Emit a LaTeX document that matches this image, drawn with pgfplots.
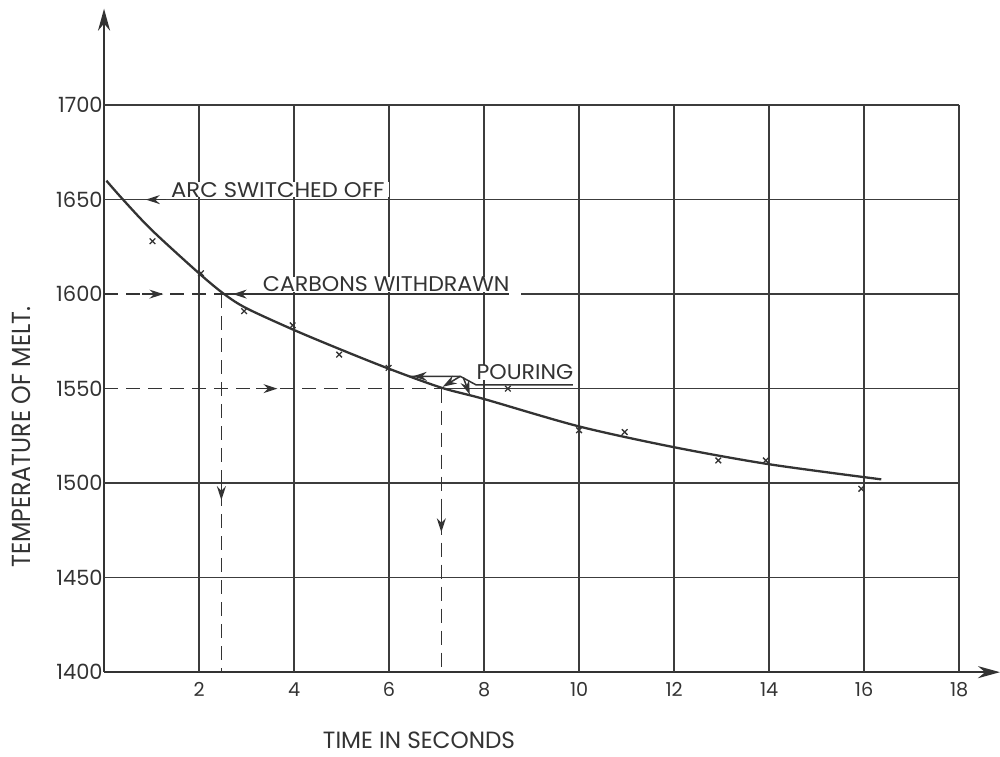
\documentclass[border=0pt]{standalone}
\usepackage{fontspec}
\setmainfont{Poppins}
\usepackage{graphicx}
\usepackage{pgfplots}
\pgfplotsset{compat=1.18}
\usetikzlibrary{arrows.meta}
\definecolor{inkc}{HTML}{333333}
\definecolor{gridc}{HTML}{3C3C3C}
\newcommand{\lab}[3]{\resizebox{#1}{#2}{#3}}
\begin{document}
\begin{tikzpicture}
\begin{axis}[
  x=23.75pt, y=0.945pt,
  xmin=0, xmax=18.86, ymin=1400, ymax=1751,
  axis lines=left,
  axis line style={line width=1.3pt, draw=inkc, -{Stealth[length=11pt,width=6pt]}},
  xtick={2,4,6,8,10,12,14,16,18},
  xticklabels={2,4,6,8,10,12,14,16,18},
  ytick={1400,1450,1500,1550,1600,1650,1700},
  yticklabels={1400,1450,1500,1550,1600,1650,1700},
  major tick length=0pt,
  tick style={draw=none},
  xticklabel style={font=\fontsize{9.6}{11}\selectfont, text=inkc, anchor=north, inner sep=0pt, yshift=-5pt},
  yticklabel style={font=\fontsize{10.5}{12}\selectfont, text=inkc, anchor=east, inner sep=0pt, xshift=-0.5pt},
  clip=false,
]
% bounding box corners
\coordinate (bbA) at (axis cs:-2.19,1355.6);
\coordinate (bbB) at (axis cs:18.86,1755.6);

% grid
\pgfplotsinvokeforeach{2,4,6,8,10,12,14,16,18}{
  \draw[gridc, line width=0.75pt] (axis cs:#1,1400) -- (axis cs:#1,1700);
}
\pgfplotsinvokeforeach{1450,1500,1650,1700}{
  \draw[gridc, line width=0.75pt] (axis cs:0,#1) -- (axis cs:18,#1);
}
\draw[gridc, line width=0.75pt] (axis cs:8.78,1600) -- (axis cs:18,1600);
\draw[gridc, line width=0.75pt] (axis cs:7.1,1550) -- (axis cs:18,1550);

% labels (white fill breaks the grid behind them)
\node[fill=white, text=inkc, inner xsep=2pt, inner ysep=0pt, anchor=south] at (axis cs:3.66,1651) {\lab{106.7pt}{7.5pt}{ARC SWITCHED OFF}};
\node[fill=white, text=inkc, inner xsep=2pt, inner ysep=0pt, anchor=south] at (axis cs:5.94,1601) {\lab{123.3pt}{7.5pt}{CARBONS WITHDRAWN}};
\node[fill=white, text=inkc, inner xsep=2pt, inner ysep=0pt, anchor=south] at (axis cs:8.86,1554.5) {\lab{48.3pt}{7.5pt}{POURING}};
\node[text=inkc, inner sep=0pt, anchor=center] at (axis cs:6.63,1364) {\lab{96pt}{8.3pt}{TIME IN SECONDS}};
\node[text=inkc, inner sep=0pt, anchor=center, rotate=90] at (axis cs:-1.73,1524.3) {\lab{130.5pt}{9.2pt}{TEMPERATURE OF MELT.}};

% annotation lines
\tikzset{arr/.style={inkc, line width=0.75pt, -{Stealth[length=7pt,width=4.5pt]}},
         dsh/.style={inkc, line width=0.75pt, dash pattern=on 7pt off 4pt}}
% carbons withdrawn
\draw[dsh] (axis cs:0,1600) -- (axis cs:2.5,1600);
\draw[inkc, line width=0.75pt] (axis cs:2.5,1600) -- (axis cs:8.53,1600);
\draw[dsh] (axis cs:2.47,1600) -- (axis cs:2.47,1400);
\draw[arr] (axis cs:0.8,1600) -- (axis cs:1.25,1600);
\draw[arr] (axis cs:3.1,1600) -- (axis cs:2.71,1600);
\draw[arr] (axis cs:2.47,1506) -- (axis cs:2.47,1491);
% arc switched off
\draw[arr] (axis cs:1.3,1650) -- (axis cs:0.88,1650);
% pouring
\draw[dsh] (axis cs:0,1550) -- (axis cs:7.1,1550);
\draw[dsh] (axis cs:7.1,1550) -- (axis cs:7.1,1400);
\draw[arr] (axis cs:3.2,1550) -- (axis cs:3.65,1550);
\draw[arr] (axis cs:7.1,1489) -- (axis cs:7.1,1474);
\draw[inkc, line width=0.75pt] (axis cs:9.87,1552) -- (axis cs:7.83,1552) -- (axis cs:7.5,1556.5) -- (axis cs:6.45,1556.5);
\draw[arr] (axis cs:6.95,1556.5) -- (axis cs:6.5,1556.5);
\draw[arr] (axis cs:7.5,1556.5) -- (axis cs:7.13,1551);
\draw[arr] (axis cs:7.56,1556) -- (axis cs:7.7,1546.8);

% cooling curve
\addplot[inkc, line width=1.15pt, smooth, tension=0.5] coordinates {
  (0.05,1660) (0.4,1650) (1,1634) (2,1611) (2.53,1600) (3,1592.5)
  (4,1581) (5,1570.5) (6,1560.5) (7.1,1550.5) (8,1544.5) (10,1530)
  (12,1519) (14,1510) (16.36,1502)
};
% measured points
\addplot[inkc, only marks, mark=x, mark size=2pt, mark options={line width=0.65pt}] coordinates {
  (1.02,1628) (2.04,1611) (2.95,1591) (3.97,1583.5) (4.95,1568) (5.99,1561)
  (8.5,1550) (10,1528) (10.96,1527) (12.93,1512) (13.93,1512) (15.94,1497)
};
\end{axis}
\pgfresetboundingbox
\path[use as bounding box] (bbA) rectangle (bbB);
\end{tikzpicture}
\end{document}
